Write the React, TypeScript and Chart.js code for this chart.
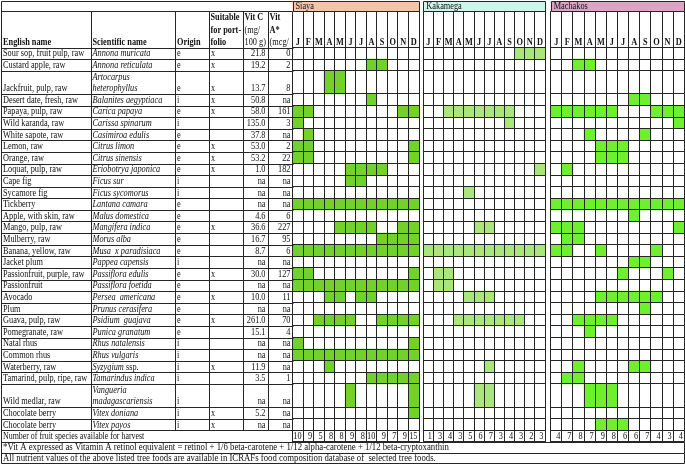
import React, { useEffect, useRef } from 'react';
import { Chart, registerables } from 'chart.js';

Chart.register(...registerables);

// ---------------- data ----------------
const months = ['J', 'F', 'M', 'A', 'M', 'J', 'J', 'A', 'S', 'O', 'N', 'D'];
const regionNames = ['Siaya', 'Kakamega', 'Machakos'];

const englishNames = [
  'Sour sop, fruit pulp, raw', 'Custard apple, raw', 'Jackfruit, pulp, raw', 'Desert date, fresh, raw',
  'Papaya, pulp, raw', 'Wild karanda, raw', 'White sapote, raw', 'Lemon, raw', 'Orange, raw',
  'Loquat, pulp, raw', 'Cape fig', 'Sycamore fig', 'Tickberry', 'Apple, with skin, raw',
  'Mango, pulp, raw', 'Mulberry, raw', 'Banana, yellow, raw', 'Jacket plum', 'Passionfruit, purple, raw',
  'Passionfruit', 'Avocado', 'Plum', 'Guava, pulp, raw', 'Pomegranate, raw', 'Natal rhus',
  'Common rhus', 'Waterberry, raw', 'Tamarind, pulp, ripe, raw', 'Wild medlar, raw',
  'Chocolate berry', 'Chocolate berry',
];
const scientificNames = [
  'Annona muricata', 'Annona reticulata', 'Artocarpus\nheterophyllus', 'Balanites aegyptiaca',
  'Carica papaya', 'Carissa spinarum', 'Casimiroa edulis', 'Citrus limon', 'Citrus sinensis',
  'Eriobotrya japonica', 'Ficus sur', 'Ficus sycomorus', 'Lantana camara', 'Malus domestica',
  'Mangifera indica', 'Morus alba', 'Musa  x paradisiaca', 'Pappea capensis', 'Passiflora edulis',
  'Passiflora foetida', 'Persea  americana', 'Prunus cerasifera', 'Psidium  guajava', 'Punica granatum',
  'Rhus natalensis', 'Rhus vulgaris', 'Syzygium|ssp.', 'Tamarindus indica',
  'Vangueria\nmadagascariensis', 'Vitex doniana', 'Vitex payos',
];
const origins = ['e', 'e', 'e', 'i', 'e', 'i', 'e', 'e', 'e', 'e', 'i', 'i', 'e', 'e', 'e', 'e', 'e', 'i', 'e', 'e', 'e', 'e', 'e', 'e', 'i', 'i', 'i', 'i', 'i', 'i', 'i'];
const portfolio = ['x', 'x', 'x', 'x', 'x', '', '', 'x', 'x', 'x', '', '', '', '', 'x', '', '', '', 'x', '', 'x', '', 'x', '', '', '', 'x', '', '', 'x', 'x'];
const vitC = ['21.8', '19.2', '13.7', '50.8', '58.0', '135.0', '37.8', '53.0', '53.2', '1.0', 'na', 'na', 'na', '4.6', '36.6', '16.7', '8.7', 'na', '30.0', 'na', '10.0', 'na', '261.0', '15.1', 'na', 'na', '11.9', '3.5', 'na', '5.2', 'na'];
const vitA = ['0', '2', '8', 'na', '161', '3', 'na', '2', '22', '182', 'na', 'na', 'na', '6', '227', '95', '6', 'na', '127', 'na', '11', 'na', '70', '4', 'na', 'na', 'na', '1', 'na', 'na', 'na'];

const ALL = [1, 2, 3, 4, 5, 6, 7, 8, 9, 10, 11, 12];
const siayaHarvest = [
  [], [8, 9], [4, 5], [8], [1, 2, 11, 12], [1], [2], [1, 2, 12], [1, 2, 12], [6, 7, 8, 9], [6, 7], [],
  ALL, [], [5, 6, 7, 8, 11, 12], [9, 10, 11, 12], ALL, [], [1, 2, 12], ALL, [4, 5, 7, 8], [],
  [3, 4, 5, 6, 9, 10, 11, 12], [], [1, 12], ALL, [4], [8, 9, 10, 11, 12], [6, 12], [12], [],
];
const kakamegaHarvest = [
  [10, 11, 12], [], [], [], [3, 4, 5, 6, 7, 8, 9], [9], [], [], [], [12], [], [5],
  [], [], [6, 7], [], ALL, [], [2, 3], [2, 3], [5, 6, 7], [],
  [4, 5, 6, 7, 8, 9, 10], [], [], [], [7], [], [6, 7], [], [],
];
const machakosHarvest = [
  [], [3, 4], [], [8, 9], [1, 2, 3, 4, 5, 6, 10, 11, 12], [12], [4, 9], [5, 6, 7], [5, 6, 7], [2], [], [],
  ALL, [8], [1, 2, 3, 12], [2, 3], [1, 2, 5, 10], [8, 9], [7, 11], [], [5, 6, 7, 8, 9, 10], [9],
  [3, 4, 5, 6], [4], [], [], [3, 8, 9], [2, 3], [4, 5, 6], [], [5, 6, 7],
];

const countLabel = 'Number of fruit species available for harvest';
const footnote1 = '*Vit A expressed as Vitamin A retinol equivalent = retinol + 1/6 beta-carotene + 1/12 alpha-carotene + 1/12 beta-cryptoxanthin';
const footnote2 = 'All nutrient values of the above listed tree foods are available in ICRAFs food composition database of  selected tree foods.';

// ---------------- layout / style ----------------
const W = 685;
const H = 464;
const TOP = 1;
const BAND_B = 11;
const HEAD_B = 47.5;
const UNIT = 11.6;
const LINE = '#262626';
const TEXT = '#111';
const FAMILY = "'Liberation Serif', 'Times New Roman', serif";
const SX = 0.83;
const SX_FOOT = 0.875;

const rowUnits = scientificNames.map((s) => (s.includes('\n') ? 2 : 1));
const rowStart: number[] = [];
let acc = 0;
rowUnits.forEach((u) => { rowStart.push(acc); acc += u; });
const DATA_UNITS = acc;
const TOTAL_UNITS = acc + 1;
const rowEdges = [...rowStart, DATA_UNITS, TOTAL_UNITS];
const GRID_B = HEAD_B + TOTAL_UNITS * UNIT;
const FOOT1_B = GRID_B + 10.7;
const FOOT2_B = FOOT1_B + 10.7;
const TABLE_R = 684.3;
const colEdges = [1, 90.5, 175, 208.5, 242.5, 267.5, 292.5];

const regionStyles = [
  { left: 0, width: 685, x0: 292.5, x1: 419, band: '#F8C4A6', green: '#73D12C' },
  { left: 421, width: 127, x0: 423.3, x1: 545, band: '#CDF6EA', green: '#ABE67B' },
  { left: 548, width: 137, x0: 550.7, x1: 684.3, band: '#DFA3C4', green: '#6EF02E' },
];
const harvests = [siayaHarvest, kakamegaHarvest, machakosHarvest];

const font = (size: number, style = '') => `${style} ${size}px ${FAMILY}`.trim();
const al = (v: number) => Math.round(v) + 0.5;

function hline(ctx: CanvasRenderingContext2D, x0: number, x1: number, y: number) {
  ctx.beginPath(); ctx.moveTo(al(x0), al(y)); ctx.lineTo(al(x1), al(y)); ctx.stroke();
}
function vline(ctx: CanvasRenderingContext2D, x: number, y0: number, y1: number) {
  ctx.beginPath(); ctx.moveTo(al(x), al(y0)); ctx.lineTo(al(x), al(y1)); ctx.stroke();
}
function drawText(ctx: CanvasRenderingContext2D, s: string, x: number, y: number, align: CanvasTextAlign, f: string, sx = SX) {
  ctx.save();
  ctx.font = f;
  ctx.textAlign = align;
  ctx.textBaseline = 'alphabetic';
  ctx.translate(x, y);
  ctx.scale(sx, 1);
  ctx.fillText(s, 0, 0);
  ctx.restore();
}
function textWidth(ctx: CanvasRenderingContext2D, s: string, f: string) {
  ctx.save(); ctx.font = f; const w = ctx.measureText(s).width * SX; ctx.restore(); return w;
}
function clipCell(ctx: CanvasRenderingContext2D, x0: number, y0: number, x1: number, y1: number) {
  ctx.beginPath(); ctx.rect(x0, y0, x1 - x0, y1 - y0); ctx.clip();
}

const tablePlugin = {
  id: 'leftTable',
  afterDraw(chart: any) {
    const ctx: CanvasRenderingContext2D = chart.ctx;
    const y = chart.scales.y;
    const L = colEdges[0];
    const R = colEdges[colEdges.length - 1];
    ctx.save();
    ctx.strokeStyle = LINE;
    ctx.lineWidth = 1;
    hline(ctx, L, R, TOP);
    hline(ctx, L, R, BAND_B);
    rowEdges.forEach((e) => hline(ctx, L, R, y.getPixelForValue(e)));
    vline(ctx, L, TOP, FOOT2_B);
    vline(ctx, R, TOP, BAND_B);
    colEdges.slice(1, -1).forEach((x) => vline(ctx, x, BAND_B, y.getPixelForValue(DATA_UNITS)));
    hline(ctx, L, TABLE_R, GRID_B);
    hline(ctx, L, TABLE_R, FOOT1_B);
    hline(ctx, L, TABLE_R, FOOT2_B);
    vline(ctx, TABLE_R, GRID_B, FOOT2_B);

    ctx.fillStyle = TEXT;
    const n = font(10);
    const b = font(10, 'bold');
    const it = font(10, 'italic');
    const hb = [20, 32.5, 45];
    drawText(ctx, 'English name', 3, hb[2], 'left', b);
    drawText(ctx, 'Scientific name', colEdges[1] + 2, hb[2], 'left', b);
    drawText(ctx, 'Origin', colEdges[2] + 2, hb[2], 'left', b);
    ['Suitable', 'for port-', 'folio'].forEach((s, i) => drawText(ctx, s, colEdges[3] + 2, hb[i], 'left', b));
    ctx.save();
    clipCell(ctx, colEdges[4], BAND_B, colEdges[5], HEAD_B);
    drawText(ctx, 'Vit C', colEdges[4] + 2, hb[0], 'left', b);
    drawText(ctx, '(mg/', colEdges[4] + 2, hb[1], 'left', n);
    drawText(ctx, '100 g)', colEdges[4] + 2, hb[2], 'left', n);
    ctx.restore();
    ctx.save();
    clipCell(ctx, colEdges[5], BAND_B, colEdges[6], HEAD_B);
    drawText(ctx, 'Vit', colEdges[5] + 2, hb[0], 'left', b);
    drawText(ctx, 'A*', colEdges[5] + 2, hb[1], 'left', b);
    drawText(ctx, '(mcg/', colEdges[5] + 2, hb[2], 'left', n);
    ctx.restore();

    englishNames.forEach((name, r) => {
      const base = y.getPixelForValue(rowStart[r] + rowUnits[r]) - 2.8;
      drawText(ctx, name, 3, base, 'left', n);
      const lines = scientificNames[r].split('\n');
      lines.forEach((ln, k) => {
        const yy = base - (lines.length - 1 - k) * UNIT;
        const [ital, upright] = ln.split('|');
        drawText(ctx, ital, colEdges[1] + 2, yy, 'left', it);
        if (upright) {
          const w = textWidth(ctx, ital + ' ', it);
          drawText(ctx, upright, colEdges[1] + 2 + w, yy, 'left', n);
        }
      });
      drawText(ctx, origins[r], colEdges[2] + 2, base, 'left', n);
      drawText(ctx, portfolio[r], colEdges[3] + 2.5, base, 'left', n);
      drawText(ctx, vitC[r], colEdges[5] - 2, base, 'right', n);
      drawText(ctx, vitA[r], colEdges[6] - 2, base, 'right', n);
    });
    drawText(ctx, countLabel, 3, y.getPixelForValue(TOTAL_UNITS) - 2.8, 'left', n, 0.79);
    drawText(ctx, footnote1, 3, FOOT1_B - 2.5, 'left', n, SX_FOOT);
    drawText(ctx, footnote2, 3, FOOT2_B - 2.3, 'left', n, SX_FOOT);
    ctx.restore();
  },
};

function makeRegionPlugin(name: string, band: string, harvest: number[][]) {
  return {
    id: 'region' + name,
    afterDraw(chart: any) {
      const ctx: CanvasRenderingContext2D = chart.ctx;
      const a = chart.chartArea;
      const x = chart.scales.x;
      const y = chart.scales.y;
      ctx.save();
      ctx.fillStyle = band;
      ctx.fillRect(a.left, TOP + 0.5, a.right - a.left, BAND_B - TOP);
      ctx.strokeStyle = LINE;
      ctx.lineWidth = 1;
      hline(ctx, a.left, a.right, TOP);
      hline(ctx, a.left, a.right, BAND_B);
      vline(ctx, a.left, TOP, BAND_B);
      vline(ctx, a.right, TOP, BAND_B);
      ctx.fillStyle = TEXT;
      drawText(ctx, name, a.left + 3, BAND_B - 2, 'left', font(10));
      const half = (x.getPixelForValue(1) - x.getPixelForValue(0)) / 2;
      months.forEach((m, i) => {
        drawText(ctx, m, x.getPixelForValue(i), HEAD_B - 2.5, 'center', font(10, 'bold'));
        const c = harvest.filter((r) => r.includes(i + 1)).length;
        drawText(ctx, String(c), x.getPixelForValue(i) + half - 1.5, y.getPixelForValue(TOTAL_UNITS) - 2.8, 'right', font(10));
      });
      ctx.restore();
    },
  };
}

function buildChart(canvas: HTMLCanvasElement, idx: number) {
  const st = regionStyles[idx];
  const harvest = harvests[idx];
  const datasets = harvest.map((mList, r) => ({
    label: englishNames[r],
    data: months.map((_, m) => (mList.includes(m + 1) ? [rowStart[r], rowStart[r] + rowUnits[r]] : null)),
    backgroundColor: st.green,
    borderWidth: 0,
    grouped: false,
    barPercentage: 1,
    categoryPercentage: 1,
  }));
  const plugins: any[] = [makeRegionPlugin(regionNames[idx], st.band, harvest)];
  if (idx === 0) plugins.unshift(tablePlugin);
  return new Chart(canvas, {
    type: 'bar',
    data: { labels: months, datasets: datasets as any },
    options: {
      animation: false,
      responsive: false,
      maintainAspectRatio: false,
      devicePixelRatio: 1,
      events: [],
      layout: {
        padding: {
          left: st.x0 - st.left,
          right: st.left + st.width - st.x1,
          top: 0,
          bottom: H - GRID_B,
        },
      },
      plugins: { legend: { display: false }, tooltip: { enabled: false }, title: { display: false } },
      scales: {
        x: {
          type: 'category',
          position: 'top',
          offset: true,
          grid: { offset: true, color: LINE, lineWidth: 1, drawTicks: true, tickLength: HEAD_B - BAND_B, z: 1 },
          border: { display: true, color: LINE, width: 1, z: 1 },
          ticks: { display: false },
          afterFit: (s: any) => { s.height = HEAD_B; },
        },
        y: {
          type: 'linear',
          min: 0,
          max: TOTAL_UNITS,
          reverse: true,
          grid: { color: LINE, lineWidth: 1, drawTicks: false, z: 1 },
          border: { display: true, color: LINE, width: 1, z: 1 },
          ticks: { display: false },
          afterBuildTicks: (s: any) => { s.ticks = rowEdges.map((v) => ({ value: v })); },
          afterFit: (s: any) => { s.width = 0; },
        },
      },
    } as any,
    plugins,
  });
}

export default function App() {
  const r0 = useRef<HTMLCanvasElement>(null);
  const r1 = useRef<HTMLCanvasElement>(null);
  const r2 = useRef<HTMLCanvasElement>(null);
  useEffect(() => {
    document.body.style.margin = '0';
    const refs = [r0, r1, r2];
    const charts = refs.map((r, i) => buildChart(r.current as HTMLCanvasElement, i));
    return () => charts.forEach((c) => c.destroy());
  }, []);
  return (
    <div style={{ position: 'relative', width: W, height: H, background: '#fff', overflow: 'hidden' }}>
      {regionStyles.map((st, i) => (
        <canvas
          key={i}
          ref={[r0, r1, r2][i]}
          width={st.width}
          height={H}
          style={{ position: 'absolute', left: st.left, top: 0, width: st.width, height: H }}
        />
      ))}
    </div>
  );
}
